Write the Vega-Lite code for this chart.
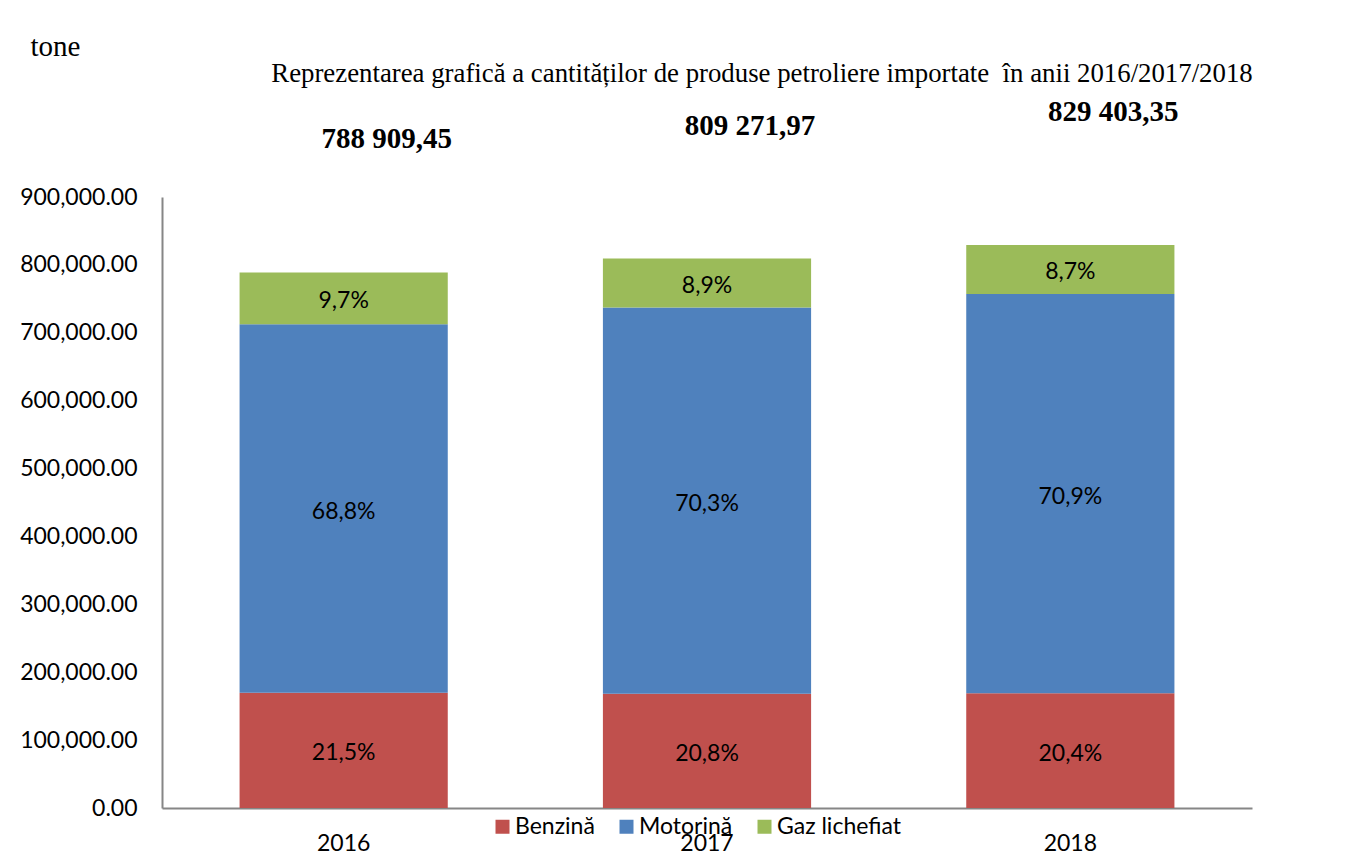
{
  "$schema": "https://vega.github.io/schema/vega-lite/v6.json",
  "width": 1090,
  "height": 611,
  "autosize": {"type": "none"},
  "padding": {"left": 162, "top": 197, "right": 109, "bottom": 48},
  "background": "white",
  "config": {"view": {"stroke": null}, "font": "Lato"},
  "title": {
    "text": "Reprezentarea grafică a cantităților de produse petroliere importate \u00a0în anii 2016/2017/2018",
    "font": "Liberation Serif",
    "fontSize": 26.8,
    "fontWeight": "normal",
    "color": "black",
    "anchor": "middle",
    "dx": 55,
    "offset": -56
  },
  "datasets": {
    "main": [
      {"year": "2016", "product": "Benzină", "ord": 1, "value": 169615.5, "pct": "21,5%"},
      {"year": "2016", "product": "Motorină", "ord": 2, "value": 542769.7, "pct": "68,8%"},
      {"year": "2016", "product": "Gaz lichefiat", "ord": 3, "value": 76524.2, "pct": "9,7%"},
      {"year": "2017", "product": "Benzină", "ord": 1, "value": 168328.6, "pct": "20,8%"},
      {"year": "2017", "product": "Motorină", "ord": 2, "value": 568918.2, "pct": "70,3%"},
      {"year": "2017", "product": "Gaz lichefiat", "ord": 3, "value": 72025.2, "pct": "8,9%"},
      {"year": "2018", "product": "Benzină", "ord": 1, "value": 169198.3, "pct": "20,4%"},
      {"year": "2018", "product": "Motorină", "ord": 2, "value": 588047.0, "pct": "70,9%"},
      {"year": "2018", "product": "Gaz lichefiat", "ord": 3, "value": 72158.1, "pct": "8,7%"}
    ],
    "totals": [
      {"year": "2016", "total": 788909.45, "label": "788 909,45"},
      {"year": "2017", "total": 809271.97, "label": "809 271,97"},
      {"year": "2018", "total": 829403.35, "label": "829 403,35"}
    ]
  },
  "layer": [
    {
      "data": {"name": "main"},
      "mark": {"type": "bar"},
      "encoding": {
        "x": {
          "field": "year",
          "type": "nominal",
          "scale": {"paddingInner": 0.427, "paddingOuter": 0.2135},
          "axis": {
            "title": null,
            "labelAngle": 0,
            "labelFont": "Lato",
            "labelFontSize": 23,
            "labelColor": "black",
            "labelPadding": 24,
            "ticks": false,
            "domainColor": "#868686",
            "domainWidth": 2
          }
        },
        "y": {
          "field": "value",
          "type": "quantitative",
          "stack": "zero",
          "scale": {"domain": [0, 900000], "nice": false},
          "axis": {
            "values": [0, 100000, 200000, 300000, 400000, 500000, 600000, 700000, 800000, 900000],
            "format": ",.2f",
            "grid": false,
            "ticks": false,
            "labelFont": "Lato",
            "labelFontSize": 23,
            "labelColor": "black",
            "labelPadding": 25,
            "domainColor": "#868686",
            "domainWidth": 2,
            "title": "tone",
            "titleFont": "Liberation Serif",
            "titleFontSize": 29,
            "titleFontWeight": "normal",
            "titleColor": "black",
            "titleAngle": 0,
            "titleAlign": "left",
            "titleBaseline": "alphabetic",
            "titleX": -132,
            "titleY": -142
          }
        },
        "color": {
          "field": "product",
          "type": "nominal",
          "scale": {"domain": ["Benzină", "Motorină", "Gaz lichefiat"], "range": ["#C0504D", "#4F81BD", "#9BBB59"]},
          "legend": {
            "orient": "none",
            "direction": "horizontal",
            "legendX": 329,
            "legendY": 618,
            "title": null,
            "symbolType": "square",
            "symbolSize": 196,
            "symbolStrokeWidth": 0,
            "labelFont": "Lato",
            "labelFontSize": 23,
            "labelColor": "black",
            "labelOffset": 1,
            "columnPadding": 20
          }
        },
        "order": {"field": "ord", "type": "quantitative"}
      }
    },
    {
      "data": {"name": "main"},
      "mark": {"type": "text", "font": "Lato", "fontSize": 23, "color": "black", "baseline": "middle", "dy": 3},
      "encoding": {
        "x": {"field": "year", "type": "nominal"},
        "y": {"field": "value", "type": "quantitative", "stack": "zero", "bandPosition": 0.5},
        "text": {"field": "pct"},
        "order": {"field": "ord", "type": "quantitative"}
      }
    },
    {
      "data": {"name": "totals"},
      "mark": {"type": "text", "font": "Liberation Serif", "fontWeight": "bold", "fontSize": 29, "color": "black", "baseline": "middle", "dx": 43, "dy": -133},
      "encoding": {
        "x": {"field": "year", "type": "nominal"},
        "y": {"field": "total", "type": "quantitative"},
        "text": {"field": "label"}
      }
    }
  ]
}
